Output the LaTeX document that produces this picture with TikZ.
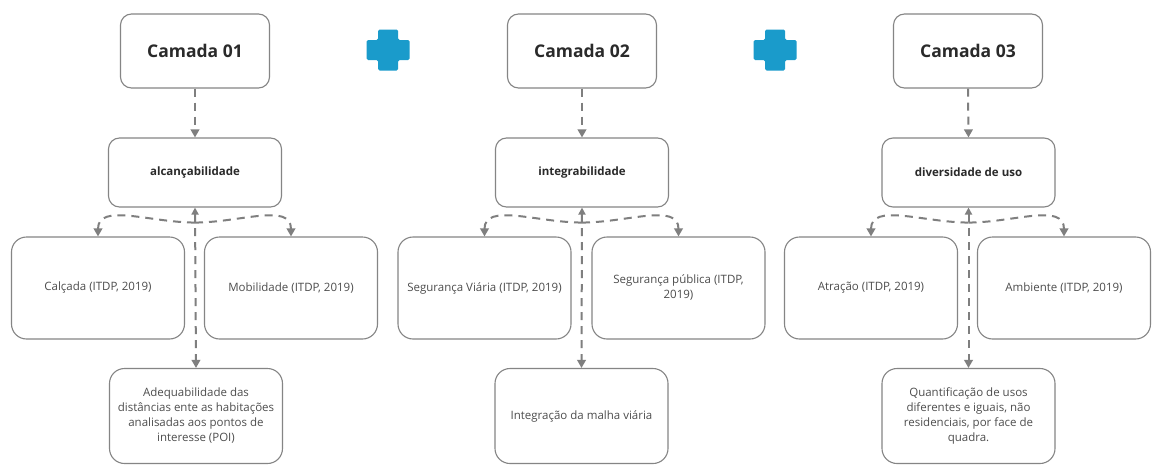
\documentclass[tikz,border=0pt]{standalone}
\usepackage{fontspec}
\setmainfont{Open Sans}
\usetikzlibrary{arrows.meta,calc}
\definecolor{plusc}{HTML}{1A9BCB}
\definecolor{edgec}{HTML}{858585}
\definecolor{lnc}{HTML}{7F7F7F}
\definecolor{txt}{HTML}{4D4D4D}
\definecolor{ttl}{HTML}{2A2A2A}
\begin{document}
\begin{tikzpicture}[x=1pt,y=-1pt,
 box/.style={draw=edgec,line width=1.1pt,rounded corners=11pt,fill=white,align=center,inner sep=2pt,text=txt,font=\fontsize{11.5}{15}\selectfont},
 title/.style={box,minimum width=149pt,minimum height=74pt,text=ttl,font=\bfseries\fontsize{17.5}{21}\selectfont},
 head/.style={box,minimum width=173pt,minimum height=69pt,text=ttl,font=\bfseries\fontsize{11.5}{14}\selectfont},
 leaf/.style={box,minimum width=173pt,minimum height=102pt,rounded corners=15pt},
 foot/.style={box,minimum width=173pt,minimum height=95pt,rounded corners=15pt},
 dl/.style={draw=lnc,line width=2pt,dash pattern=on 8pt off 6pt,-{Triangle[length=8pt,width=8.5pt]}},
 dlb/.style={dl,{Triangle[length=7pt,width=7pt]}-{Triangle[length=8pt,width=8.5pt]}},
 plus/.pic={\fill[plusc,rounded corners=1.5pt] (-10,-20.5) -- (10,-20.5) -- (10,-10) -- (21.5,-10) -- (21.5,10) -- (10,10) -- (10,20.5) -- (-10,20.5) -- (-10,10) -- (-21.5,10) -- (-21.5,-10) -- (-10,-10) -- cycle;}
]
\fill[white] (0,0) rectangle (1152,466);
\useasboundingbox (0,0) rectangle (1152,466);

\pic at (388,50) {plus};
\pic at (775,50) {plus};

% column 1
\node[title] (c1) at (195,51) {Camada 01};
\node[head] (a1) at (195,172.5) {alcançabilidade};
\node[leaf] (l1) at (98,288) {Calçada (ITDP, 2019)};
\node[leaf] (r1) at (291,288) {Mobilidade (ITDP, 2019)};
\node[foot] (b1) at (196,416) {Adequabilidade das\\distâncias ente as habitações\\analisadas aos pontos de\\interesse (POI)};

% column 2
\node[title] (c2) at (582,51) {Camada 02};
\node[head] (a2) at (582,172.5) {integrabilidade};
\node[leaf] (l2) at (484.5,288) {Segurança Viária (ITDP, 2019)};
\node[leaf] (r2) at (678.5,288) {Segurança pública (ITDP,\\2019)};
\node[foot] (b2) at (581.5,416) {Integração da malha viária};

% column 3
\node[title] (c3) at (968,51) {Camada 03};
\node[head] (a3) at (968.5,172.5) {diversidade de uso};
\node[leaf] (l3) at (871,288) {Atração (ITDP, 2019)};
\node[leaf] (r3) at (1064,288) {Ambiente (ITDP, 2019)};
\node[foot] (b3) at (968.5,416) {Quantificação de usos\\diferentes e iguais, não\\residenciais, por face de\\quadra.};

\foreach \i in {1,2,3}{
  \draw[dl] (c\i.south) -- (a\i.north);
  \draw[dlb] (a\i.south) -- (b\i.north);
  \coordinate (j\i) at ($(a\i.south)+(0,15)$);
  \draw[dl] (j\i) .. controls ($(j\i)+(-45,0)$) and ($(l\i.north)+(0,-34)$) .. (l\i.north);
  \draw[dl] (j\i) .. controls ($(j\i)+(45,0)$) and ($(r\i.north)+(0,-34)$) .. (r\i.north);
}
\end{tikzpicture}
\end{document}
